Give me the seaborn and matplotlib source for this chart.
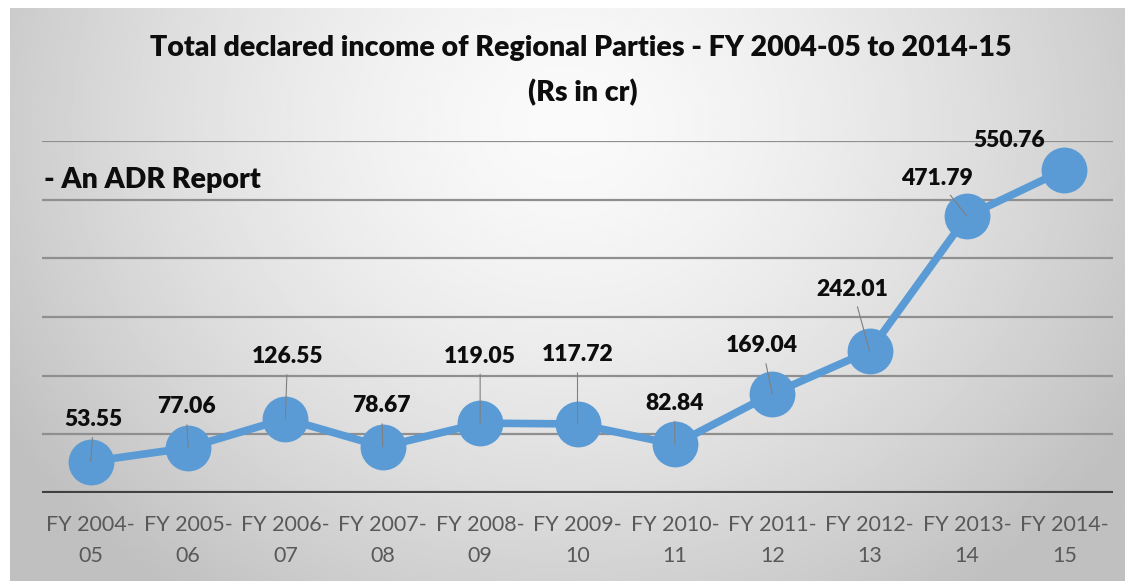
import numpy as np
import matplotlib
matplotlib.use("Agg")
import matplotlib.pyplot as plt
import seaborn as sns

years = ["FY 2004-\n05", "FY 2005-\n06", "FY 2006-\n07", "FY 2007-\n08", "FY 2008-\n09",
         "FY 2009-\n10", "FY 2010-\n11", "FY 2011-\n12", "FY 2012-\n13", "FY 2013-\n14",
         "FY 2014-\n15"]
income = [53.55, 77.06, 126.55, 78.67, 119.05, 117.72, 82.84, 169.04, 242.01, 471.79, 550.76]
gridlines = [100, 200, 300, 400, 500, 600]

# label offsets in pixels (label centre relative to the point) and leader flag
label_offsets = [(3, 42), (-2, 41), (2, 62), (-1, 41), (0, 67), (0, 69),
                 (0, 41), (-10, 48), (-17, 62), (-30, 38), (-55, 29)]
leaders = [True] * 10 + [False]

sns.set_style("white")
plt.rcParams["font.family"] = ["Lato", "DejaVu Sans"]

W, H = 1125, 581
fig = plt.figure(figsize=(W / 100, H / 100), dpi=100)

# gradient background of the chart area
bg = fig.add_axes([10 / W, 0, 1 - 10 / W, 1 - 8 / H], zorder=0)
yy, xx = np.mgrid[0:1:200j, 0:1:400j]
r = np.sqrt(((xx - 0.5) / 0.58) ** 2 + ((yy - 0.2) / 1.0) ** 2)
shade = np.clip(0.98 - 0.22 * r ** 1.5, 0.75, 0.98)
bg.imshow(shade, cmap="gray", vmin=0, vmax=1, aspect="auto", extent=(0, 1, 1, 0))
bg.axis("off")

ax = fig.add_axes([42 / W, 1 - 493 / H, (1113 - 42) / W, (493 - 141) / H], zorder=1)
ax.set_facecolor("none")

x = np.arange(len(income))
sns.lineplot(x=x, y=income, ax=ax, color="#5B9BD5", linewidth=5.5, marker="o",
             markersize=33, markeredgewidth=0, zorder=3, clip_on=False)

for yv in gridlines:
    ax.axhline(yv, color="#8f8f8f", lw=1.6, zorder=1)
ax.axhline(0, color="#404040", lw=3, zorder=2)

for xi, v, (dx, dy), lead in zip(x, income, label_offsets, leaders):
    arrow = dict(arrowstyle="-", color="#7f7f7f", lw=0.8, shrinkA=3, shrinkB=0) if lead else None
    ax.annotate(f"{v:.2f}", xy=(xi, v), xytext=(dx, dy), textcoords="offset pixels",
                ha="center", va="center", fontsize=16.5, fontweight="heavy", color="#0d0d0d",
                zorder=5, arrowprops=arrow)

ax.set_xlim(-0.5, len(income) - 0.5)
ax.set_ylim(0, 600)
ax.set_xticks(x)
ax.set_xticklabels(years, fontsize=15.5, color="#595959", linespacing=1.65)
ax.set_yticks([])
ax.tick_params(axis="x", length=0, pad=16)
for s in ax.spines.values():
    s.set_visible(False)

fig.text(0.516, 1 - 48 / H, "Total declared income of Regional Parties - FY 2004-05 to 2014-15",
         ha="center", va="center", fontsize=20.5, fontweight="heavy", color="#0d0d0d")
fig.text(0.518, 1 - 93 / H, "(Rs in cr)",
         ha="center", va="center", fontsize=20.5, fontweight="heavy", color="#0d0d0d")
fig.text(44 / W, 1 - 180 / H, "- An ADR Report",
         ha="left", va="center", fontsize=20.5, fontweight="heavy", color="#0d0d0d")

fig.savefig("out.png", dpi=100)
